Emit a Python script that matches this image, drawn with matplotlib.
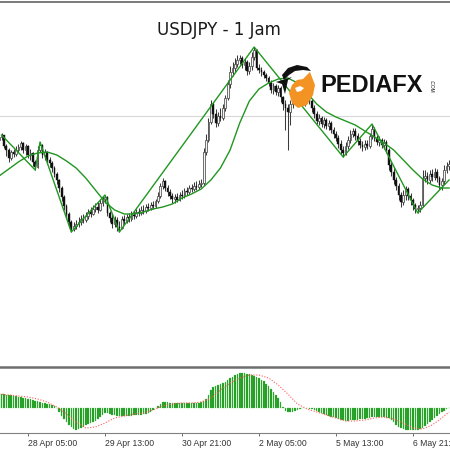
import numpy as np
import matplotlib.pyplot as plt
from matplotlib.patches import Polygon

# ------ USDJPY H1 candles ------
first_open = 110.60
close = [110.63, 110.65, 110.54, 110.50, 110.42, 110.48, 110.46, 110.50, 110.53, 110.57,
         110.50, 110.54, 110.45, 110.47, 110.38, 110.33, 110.50, 110.55, 110.45, 110.48,
         110.40, 110.37, 110.32, 110.26, 110.20, 110.12, 110.03, 109.94, 109.86, 109.78,
         109.71, 109.74, 109.76, 109.78, 109.81, 109.80, 109.84, 109.88, 109.86, 109.91,
         109.93, 109.90, 109.97, 110.01, 110.03, 109.87, 109.82, 109.76, 109.80, 109.73,
         109.72, 109.81, 109.79, 109.83, 109.81, 109.85, 109.84, 109.88, 109.87, 109.90,
         109.89, 109.93, 109.92, 109.95, 109.94, 109.99, 110.04, 110.14, 110.19, 110.12,
         110.08, 110.04, 110.01, 110.03, 110.00, 110.05, 110.04, 110.09, 110.08, 110.12,
         110.11, 110.14, 110.13, 110.16, 110.17, 110.48, 110.60, 110.78, 110.96, 110.86,
         110.77, 110.84, 110.82, 110.92, 111.02, 111.16, 111.28, 111.32, 111.36, 111.40,
         111.42, 111.35, 111.38, 111.29, 111.34, 111.43, 111.50, 111.32, 111.30, 111.28,
         111.25, 111.22, 111.17, 111.10, 111.14, 111.08, 111.12, 111.03, 110.96, 110.92,
         110.88, 110.96, 111.00, 111.02, 111.00, 111.03, 110.98, 111.01, 111.03, 110.99,
         110.92, 110.86, 110.79, 110.82, 110.76, 110.80, 110.74, 110.77, 110.70, 110.66,
         110.62, 110.56, 110.50, 110.47, 110.54, 110.60, 110.66, 110.69, 110.64, 110.59,
         110.55, 110.53, 110.56, 110.54, 110.64, 110.71, 110.62, 110.58, 110.60, 110.55,
         110.58, 110.50, 110.35, 110.28, 110.20, 110.14, 110.05, 109.98, 110.05, 110.11,
         110.04, 110.00, 109.95, 109.91, 109.92, 109.95, 110.22, 110.24, 110.20, 110.26,
         110.23, 110.28, 110.22, 110.15, 110.19, 110.30, 110.34, 110.36]
high = [110.66, 110.67, 110.65, 110.56, 110.52, 110.50, 110.51, 110.54, 110.56, 110.59,
        110.58, 110.56, 110.55, 110.51, 110.48, 110.40, 110.54, 110.58, 110.56, 110.51,
        110.49, 110.43, 110.39, 110.34, 110.28, 110.21, 110.14, 110.05, 109.96, 109.88,
        109.80, 109.78, 109.80, 109.83, 109.85, 109.86, 109.88, 109.91, 109.93, 109.95,
        109.97, 109.98, 110.01, 110.04, 110.05, 110.04, 109.89, 109.86, 109.84, 109.83,
        109.79, 109.84, 109.85, 109.86, 109.87, 109.89, 109.89, 109.91, 109.92, 109.94,
        109.95, 109.96, 109.97, 109.98, 109.99, 110.01, 110.08, 110.17, 110.22, 110.20,
        110.15, 110.11, 110.07, 110.06, 110.07, 110.08, 110.10, 110.12, 110.13, 110.15,
        110.16, 110.18, 110.19, 110.20, 110.21, 110.52, 110.66, 110.82, 111.00, 110.98,
        110.91, 110.88, 110.92, 110.96, 111.05, 111.20, 111.34, 111.38, 111.42, 111.45,
        111.45, 111.44, 111.42, 111.40, 111.38, 111.48, 111.53, 111.51, 111.36, 111.33,
        111.30, 111.27, 111.24, 111.20, 111.17, 111.16, 111.15, 111.14, 111.04, 111.00,
        110.96, 111.00, 111.04, 111.06, 111.05, 111.07, 111.05, 111.05, 111.06, 111.04,
        111.01, 110.95, 110.89, 110.86, 110.84, 110.83, 110.82, 110.80, 110.79, 110.73,
        110.69, 110.65, 110.60, 110.54, 110.58, 110.64, 110.70, 110.72, 110.72, 110.67,
        110.62, 110.59, 110.60, 110.60, 110.67, 110.76, 110.73, 110.65, 110.64, 110.62,
        110.61, 110.60, 110.52, 110.38, 110.32, 110.23, 110.17, 110.08, 110.10, 110.14,
        110.13, 110.07, 110.02, 109.97, 109.95, 109.99, 110.30, 110.30, 110.28, 110.30,
        110.31, 110.32, 110.31, 110.24, 110.22, 110.35, 110.38, 110.40]
low = [110.57, 110.60, 110.52, 110.44, 110.38, 110.40, 110.43, 110.44, 110.48, 110.50,
       110.47, 110.45, 110.42, 110.40, 110.34, 110.30, 110.32, 110.48, 110.42, 110.40,
       110.36, 110.33, 110.28, 110.23, 110.16, 110.08, 109.99, 109.90, 109.82, 109.74,
       109.68, 109.69, 109.71, 109.73, 109.75, 109.77, 109.78, 109.81, 109.83, 109.85,
       109.88, 109.87, 109.89, 109.94, 109.97, 109.84, 109.78, 109.72, 109.73, 109.69,
       109.68, 109.71, 109.76, 109.77, 109.78, 109.79, 109.81, 109.82, 109.84, 109.85,
       109.86, 109.87, 109.89, 109.90, 109.91, 109.92, 109.97, 110.02, 110.11, 110.09,
       110.04, 110.01, 109.97, 109.97, 109.98, 109.99, 110.01, 110.02, 110.05, 110.06,
       110.08, 110.09, 110.10, 110.11, 110.13, 110.15, 110.45, 110.58, 110.76, 110.82,
       110.73, 110.74, 110.79, 110.80, 110.89, 111.00, 111.12, 111.24, 111.28, 111.33,
       111.36, 111.32, 111.30, 111.25, 111.26, 111.30, 111.40, 111.30, 111.27, 111.24,
       111.22, 111.19, 111.14, 111.07, 111.06, 111.05, 111.04, 110.98, 110.90, 110.70,
       110.50, 110.75, 110.92, 110.96, 110.96, 110.97, 110.95, 110.94, 110.97, 110.96,
       110.88, 110.82, 110.76, 110.75, 110.73, 110.72, 110.71, 110.70, 110.67, 110.62,
       110.59, 110.52, 110.46, 110.43, 110.45, 110.51, 110.57, 110.63, 110.60, 110.55,
       110.52, 110.49, 110.50, 110.51, 110.52, 110.61, 110.59, 110.55, 110.54, 110.52,
       110.51, 110.47, 110.30, 110.24, 110.16, 110.10, 110.00, 109.93, 109.95, 110.00,
       110.00, 109.95, 109.90, 109.87, 109.87, 109.88, 109.93, 110.18, 110.16, 110.17,
       110.19, 110.20, 110.18, 110.11, 110.10, 110.16, 110.27, 110.30]

# moving average, read every 4 bars
ma_idx = list(range(0, 188, 4)) + [187]
ma_val = [110.24, 110.31, 110.38, 110.44, 110.47, 110.48, 110.45, 110.39, 110.32, 110.22,
          110.10, 109.98, 109.90, 109.86, 109.86, 109.88, 109.91, 109.93, 109.96, 110.02,
          110.06, 110.11, 110.20, 110.32, 110.50, 110.77, 110.99, 111.11, 111.17, 111.21,
          111.22, 111.17, 111.07, 110.96, 110.88, 110.83, 110.79, 110.75, 110.69, 110.63,
          110.57, 110.50, 110.40, 110.30, 110.21, 110.15, 110.12, 110.12]

# zigzag pivots
zz_idx = [1, 15, 17, 30, 44, 50, 106, 143, 155, 174, 187]
zz_val = [110.65, 110.30, 110.58, 109.68, 110.05, 109.68, 111.53, 110.43, 110.76, 109.87, 110.20]

level = 110.84

# MACD main (histogram) and signal
macd = [0.14, 0.14, 0.14, 0.13, 0.13, 0.13, 0.12, 0.12, 0.11, 0.11,
        0.10, 0.10, 0.09, 0.09, 0.08, 0.07, 0.07, 0.06, 0.05, 0.05,
        0.04, 0.04, 0.03, 0.02, 0.00, -0.04, -0.08, -0.11, -0.14, -0.17,
        -0.19, -0.21, -0.22, -0.21, -0.20, -0.19, -0.17, -0.16, -0.15, -0.14,
        -0.13, -0.11, -0.09, -0.07, -0.05, -0.05, -0.06, -0.07, -0.07, -0.08,
        -0.08, -0.08, -0.08, -0.08, -0.08, -0.08, -0.07, -0.07, -0.07, -0.07,
        -0.06, -0.06, -0.05, -0.04, -0.02, 0.00, 0.02, 0.04, 0.06, 0.06,
        0.06, 0.05, 0.05, 0.05, 0.05, 0.05, 0.05, 0.05, 0.05, 0.05,
        0.05, 0.05, 0.05, 0.05, 0.06, 0.07, 0.09, 0.13, 0.18, 0.21,
        0.22, 0.23, 0.24, 0.25, 0.26, 0.28, 0.30, 0.31, 0.33, 0.34,
        0.35, 0.35, 0.35, 0.34, 0.34, 0.33, 0.32, 0.31, 0.30, 0.28,
        0.27, 0.24, 0.22, 0.19, 0.16, 0.13, 0.10, 0.06, 0.01, -0.03,
        -0.04, -0.04, -0.04, -0.03, -0.02, -0.01, 0.00, 0.00, 0.00, -0.01,
        -0.01, -0.02, -0.03, -0.04, -0.05, -0.06, -0.07, -0.08, -0.09, -0.09,
        -0.10, -0.11, -0.12, -0.12, -0.13, -0.13, -0.12, -0.12, -0.12, -0.12,
        -0.11, -0.11, -0.11, -0.10, -0.10, -0.09, -0.09, -0.09, -0.09, -0.09,
        -0.09, -0.10, -0.10, -0.12, -0.14, -0.17, -0.19, -0.20, -0.21, -0.22,
        -0.22, -0.22, -0.22, -0.22, -0.22, -0.21, -0.20, -0.18, -0.16, -0.14,
        -0.12, -0.10, -0.08, -0.06, -0.04, -0.03, -0.01, 0.00]
sig_idx = ma_idx
sig_val = [0.14, 0.13, 0.12, 0.11, 0.09, 0.06, 0.01, -0.06, -0.14, -0.20,
           -0.19, -0.15, -0.10, -0.08, -0.06, -0.05, -0.02, 0.02, 0.04, 0.05,
           0.05, 0.06, 0.10, 0.18, 0.25, 0.30, 0.33, 0.33, 0.30, 0.23,
           0.14, 0.04, -0.01, -0.04, -0.07, -0.10, -0.13, -0.13, -0.12, -0.10,
           -0.09, -0.11, -0.15, -0.20, -0.21, -0.17, -0.10, -0.04]

tick_pos = [12, 44, 76, 108, 140, 172]
tick_lbl = ['28 Apr 05:00', '29 Apr 13:00', '30 Apr 21:00',
            '2 May 05:00', '5 May 13:00', '6 May 21:00']

# ------ figure ------
fig = plt.figure(figsize=(4.5, 4.5), dpi=100)
fig.patch.set_facecolor('white')
W = H = 450.0
xlim = (0.36, 187.4)

ax = fig.add_axes([0, 1 - 367 / H, 1, 365 / H])
ax2 = fig.add_axes([0, 1 - 433 / H, 1, 64 / H])

x = np.arange(len(close))
c = np.array(close)
o = np.array([first_open] + close[:-1])
hi = np.array(high)
lo = np.array(low)
up = c >= o

ax.axhline(level, color='#d8d8d8', lw=0.8, zorder=1)
ax.vlines(x, lo, hi, color='#3c3c3c', lw=0.75, zorder=2)
body = np.maximum(np.abs(c - o), 0.006)
ax.bar(x[up], body[up], bottom=np.minimum(o, c)[up], width=0.72,
       color='#f4f4f4', edgecolor='#4a4a4a', lw=0.55, zorder=3)
ax.bar(x[~up], body[~up], bottom=np.minimum(o, c)[~up], width=0.72,
       color='#111111', edgecolor='#111111', lw=0.3, zorder=3)

ax.plot(ma_idx, ma_val, color='#219621', lw=1.0, zorder=4)
ax.plot(zz_idx, zz_val, color='#219621', lw=1.0, zorder=4)

ax.set_xlim(*xlim)
ax.set_ylim(108.33, 111.98)
ax.set_xticks([])
ax.set_yticks([])
for s in ['left', 'right']:
    ax.spines[s].set_visible(False)
ax.spines['top'].set_color('#6e6e6e')
ax.spines['top'].set_linewidth(1.3)
ax.spines['bottom'].set_color('#6e6e6e')
ax.spines['bottom'].set_linewidth(1.8)

ax.text(0.486, 1 - 28 / 365, 'USDJPY - 1 Jam', transform=ax.transAxes,
        ha='center', va='center', fontsize=12, color='#1a1a1a')

# MACD panel
ax2.bar(x, macd, width=0.65, color='#1c9a1c', edgecolor='#5cc05c', lw=0.2)
ax2.plot(sig_idx, sig_val, color='#ff5a5a', lw=0.8, ls=(0, (1, 1.5)))
ax2.set_xlim(*xlim)
ax2.set_ylim(-0.25, 0.39)
ax2.set_yticks([])
for s in ['left', 'right', 'top']:
    ax2.spines[s].set_visible(False)
ax2.spines['bottom'].set_color('#808080')
ax2.spines['bottom'].set_linewidth(0.8)
ax2.set_xticks(tick_pos)
ax2.set_xticklabels(tick_lbl, ha='left', fontsize=6.2, color='#333333',
                    family='Liberation Sans')
ax2.tick_params(axis='x', length=2.5, width=0.6, color='#555555', pad=1.5)

# logo
lg = fig.add_axes([270 / W, 1 - 115 / H, 170 / W, 60 / H])
lg.set_xlim(270, 440)
lg.set_ylim(115, 55)
lg.axis('off')
lg.patch.set_alpha(0)
lg.add_patch(Polygon([(303, 79), (310, 72), (315, 85), (313, 95), (307, 105), (298, 108),
                      (292, 103), (289, 93), (292, 85), (297, 80)],
                     closed=True, color='#f39323', lw=0))
lg.add_patch(Polygon([(295, 88), (300, 86), (304, 88), (301, 91), (297, 92)],
                     closed=True, color='white', lw=0))
lg.add_patch(Polygon([(282, 75), (288, 68), (297, 65), (307, 67), (311, 71),
                      (303, 70), (295, 71), (289, 75), (284, 80)],
                     closed=True, color='#111111', lw=0))
lg.add_patch(Polygon([(276, 82), (292, 77), (288, 80), (285, 94), (282, 84)],
                     closed=True, color='#111111', lw=0))
lg.text(320, 85, 'PEDIAFX', ha='left', va='center', fontsize=17,
        fontweight='bold', color='#111111', family='Liberation Sans')
lg.text(431, 86, '.COM', ha='center', va='center', fontsize=3.5,
        rotation=-90, color='#111111', family='Liberation Sans')

fig.savefig('out.png', dpi=100, facecolor='white')
